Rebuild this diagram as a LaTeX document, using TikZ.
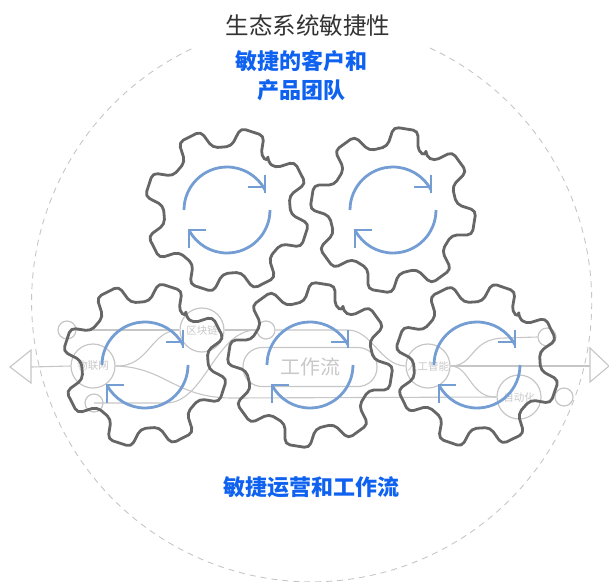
\documentclass[tikz,border=0pt]{standalone}
\usepackage{fontspec}
\setmainfont{Noto Sans CJK SC}
\tikzset{
	wire/.style = {draw=wiregray, line width=1.1pt},
	hub/.style = {circle, draw=wiregray, line width=1.2pt, minimum size=44pt, inner sep=0pt, text=labelgray, font=\fontsize{10.5}{12}\selectfont},
	dot/.style = {circle, draw=wiregray, line width=1.2pt, minimum size=18pt, inner sep=0pt},
	gear/.pic = {
		\draw[draw=geargray, line width=2.8pt, rounded corners=5pt, line join=round] ({#1-22.5}:63pt)
			\foreach \a in {0,45,...,315} {
				-- ({#1+\a-14}:64pt) -- ({#1+\a-8.5}:83pt) -- ({#1+\a+8.5}:83pt) -- ({#1+\a+14}:64pt) -- ({#1+\a+22.5}:63pt)
			} -- cycle;
		\draw[draw=arcblue, line width=2.8pt] (-43,0) arc[start angle=180, end angle=28, radius=43pt];
		\draw[draw=arcblue, line width=2.8pt] (43,0) arc[start angle=0, end angle=-152, radius=43pt];
		\draw[draw=arcblue, line width=2.8pt] (38,-35) -- (38,-17) (21,-23) -- (39,-23);
		\draw[draw=arcblue, line width=2.8pt] (-38,38) -- (-38,19) (-39,20) -- (-21,20);
	}
}
\definecolor{wiregray}{HTML}{C6C6C6}
\definecolor{labelgray}{HTML}{C8C8C8}
\definecolor{geargray}{HTML}{666666}
\definecolor{arcblue}{HTML}{739DD3}
\definecolor{titleblue}{HTML}{0F62F0}
\begin{document}
\begin{tikzpicture}[x=1pt, y=-1pt]
		\useasboundingbox (0,0) rectangle (609,581);
		% outer ring
		\draw[draw=wiregray, line width=0.9pt, dash pattern=on 6pt off 5pt] (430,48) arc[start angle=65, end angle=-245, radius=280pt];
		\node (title) at (308,26) {\fontsize{23.5}{26}\selectfont\color{black!80} 生态系统敏捷性};
		\node (teams) [align=center, text=titleblue, font=\fontsize{22}{29}\selectfont\bfseries] at (301,76) {敏捷的客户和\\产品团队};
		\node (flows) [text=titleblue, font=\fontsize{22}{26}\selectfont\bfseries] at (311,487) {敏捷运营和工作流};
		%
		\node (iot) [hub] at (93,366) {物联网};
		\node (chain) [hub] at (202,330) {区块链};
		\node (ai) [hub] at (428,366) {人工智能};
		\node (auto) [hub] at (519,397) {自动化};
		\node (dotA) [dot] at (67,330) {};
		\node (dotB) [dot] at (94,403) {};
		\node (dotC) [dot] at (266,330) {};
		\node (dotD) [dot] at (547,337) {};
		\node (dotE) [dot] at (564,397) {};
		\node (pill) [draw=wiregray, line width=1.2pt, rounded corners=19pt, minimum width=134pt, minimum height=39pt, inner sep=0pt, text=labelgray, font=\fontsize{20}{22}\selectfont] at (310,367) {工作流};
		%
		\coordinate (triL) at (31,367);
		\coordinate (triR) at (590,366);
		\draw[wire] (31,350) -- (31,383) -- (10,367) -- cycle;
		\draw[wire] (590,348) -- (590,382) -- (609,366) -- cycle;
		\draw[wire] (triL) -- (iot.west);
		\draw[wire] (dotA.east) -- (chain.west);
		\draw[wire] (chain.east) -- (dotC.west);
		\draw[wire] (dotC.east) -- ++(72,0) .. controls (372,330) and (380,365) .. (ai.west);
		\draw[wire] (dotB.center) -- ++(72,0) .. controls (205,403) and (215,330) .. (dotC.west);
		\draw[wire] (iot.east) .. controls (150,367) and (150,330) .. (chain.west);
		\draw[wire] (iot.east) .. controls (165,367) and (175,398) .. (232,398) -- (auto.west);
		\draw[wire] (ai.east) -- (triR);
		\draw[wire] (ai.east) .. controls (475,366) and (470,338) .. (505,338) -- (dotD.west);
		\draw[wire] (ai.east) .. controls (470,366) and (470,398) .. (auto.west);
		%
		\pic (gearA) at (227,210) {gear=72};
		\pic (gearB) at (393,210) {gear=81};
		\pic (gearC) at (145,365) {gear=72};
		\pic (gearD) at (310,365) {gear=81};
		\pic (gearE) at (477,365) {gear=71};
	\end{tikzpicture}
\end{document}
